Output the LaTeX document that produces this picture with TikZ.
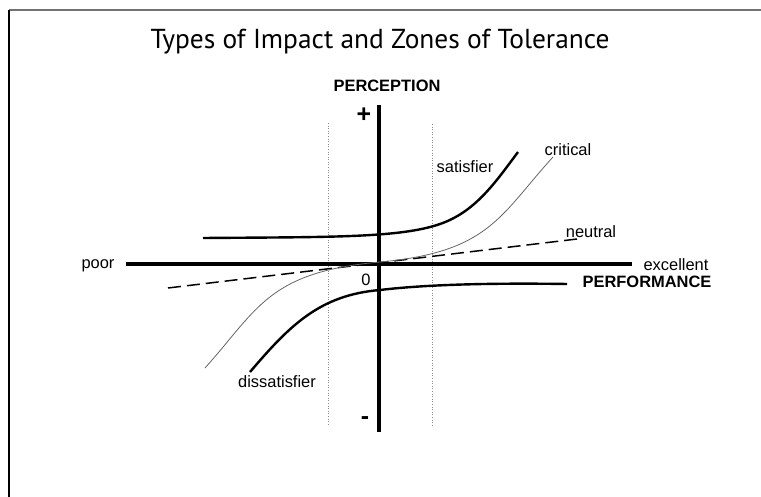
\documentclass[tikz,border=0pt]{standalone}
\usepackage{fontspec}
\setmainfont{Liberation Sans}
\newfontfamily\titlefont{PT Sans}
\begin{document}
\begin{tikzpicture}[x=1bp,y=-1bp,
  lbl/.style={font=\fontsize{16.5}{18}\selectfont,inner sep=0pt},
  bold lbl/.style={font=\fontsize{16.5}{18}\selectfont\bfseries,inner sep=0pt},
  sign lbl/.style={font=\fontsize{25}{26}\selectfont\bfseries,inner sep=0pt},
  axisline/.style={line width=4bp},
  thickcurve/.style={line width=2.4bp},
  thincurve/.style={line width=0.8bp,black!60},
  zone/.style={line width=0.6bp,black!45,dotted},
  neutralline/.style={line width=1.5bp,dash pattern=on 13bp off 6bp}]
\useasboundingbox (0,0) rectangle (761,497);
\fill[white] (0,0) rectangle (761,497);
% frame
\draw[line width=2bp,black!55] (9,10) -- (761,10);
\draw[line width=1.3bp] (9,10) -- (9,497);
% title
\node[inner sep=0pt] (title) at (380,42) {\titlefont\fontsize{27.5}{30}\selectfont Types of Impact and Zones of Tolerance};
% zone lines
\coordinate (zlt) at (328,123); \coordinate (zlb) at (328,426);
\coordinate (zrt) at (432,124); \coordinate (zrb) at (432,426);
\draw[zone] (zlt) -- (zlb);
\draw[zone] (zrt) -- (zrb);
% axes
\coordinate (ytop) at (379,105); \coordinate (ybot) at (379,432);
\coordinate (xl) at (126,264); \coordinate (xr) at (632,264);
\draw[axisline] (ytop) -- (ybot);
\draw[axisline] (xl) -- (xr);
% curves
\draw[neutralline] (168,288) -- (577,239);
\draw[thincurve] (205,368) .. controls (258,309) and (268,272) .. (380,262) .. controls (490,252) and (500,215) .. (553,157);
\draw[thickcurve] (203,238) .. controls (330,237) and (400,238) .. (440,224) .. controls (475,212) and (495,183) .. (518,152);
\draw[thickcurve] (250,372) .. controls (290,325) and (320,295) .. (380,290) .. controls (430,284) and (500,283) .. (567,284);
% labels
\node[bold lbl] (perc) at (387,86) {PERCEPTION};
\node[sign lbl] (plus) at (364,115) {+};
\node[sign lbl] (minus) at (365,421) {-};
\node[lbl] (zero) at (366,280) {0};
\node[lbl] (poor) at (98,266) {poor};
\node[lbl] (exc) at (676,265) {excellent};
\node[bold lbl] (perf) at (647,282) {PERFORMANCE};
\node[lbl] (sat) at (465,167) {satisfier};
\node[lbl] (crit) at (568,150) {critical};
\node[lbl] (neu) at (591,232) {neutral};
\node[lbl] (dis) at (277,382) {dissatisfier};
\end{tikzpicture}
\end{document}
